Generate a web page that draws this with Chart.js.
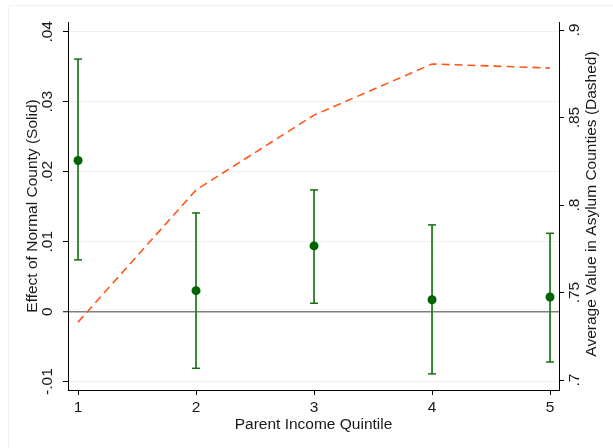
<!DOCTYPE html>
<html>
<head>
<meta charset="utf-8">
<script src="https://cdn.jsdelivr.net/npm/chart.js@4/dist/chart.umd.min.js"></script>
<style>
  html, body { margin: 0; padding: 0; background: #ffffff; }
  #c { display: block; }
</style>
</head>
<body>
<canvas id="c" width="613" height="448"></canvas>
<script>
// ---- data ----
const quintiles = [1, 2, 3, 4, 5];
const effect = [0.0216, 0.0030, 0.0094, 0.0017, 0.0021];
const ciLower = [0.0074, -0.0081, 0.0012, -0.0089, -0.0072];
const ciUpper = [0.0361, 0.0141, 0.0174, 0.0124, 0.0112];
const asylumAvg = [0.7331, 0.8086, 0.8514, 0.8806, 0.8783];

const xTickValues = [1, 2, 3, 4, 5];
const leftTickValues = [-0.01, 0, 0.01, 0.02, 0.03, 0.04];
const leftTickLabels = ['-.01', '0', '.01', '.02', '.03', '.04'];
const rightTickValues = [0.7, 0.75, 0.8, 0.85, 0.9];
const rightTickLabels = ['.7', '.75', '.8', '.85', '.9'];

const xTitle = 'Parent Income Quintile';
const leftTitle = 'Effect of Normal County (Solid)';
const rightTitle = 'Average Value in Asylum Counties (Dashed)';

// ---- derived tables ----
const pointData = quintiles.map((q, i) => ({ x: q, y: effect[i] }));
const ciData = [];
quintiles.forEach((q, i) => {
  ciData.push({ x: q, y: ciLower[i] });
  ciData.push({ x: q, y: ciUpper[i] });
  ciData.push({ x: q, y: null });
});
const lineData = quintiles.map((q, i) => ({ x: q, y: asylumAvg[i] }));

const FONT = 'Liberation Sans, Arial, Helvetica, sans-serif';
const FS = 15.5;
const TEXT = '#1a1a1a';
const GRID = '#eaf2f3';

const framePlugin = {
  id: 'frame',
  beforeDraw(chart) {
    const ctx = chart.ctx;
    ctx.save();
    ctx.strokeStyle = GRID;
    ctx.lineWidth = 1;
    ctx.beginPath();
    ctx.moveTo(8.5, 448);
    ctx.lineTo(8.5, 5.5);
    ctx.lineTo(613, 5.5);
    ctx.stroke();
    ctx.restore();
  }
};

const yTextPlugin = {
  id: 'yText',
  afterDraw(chart) {
    const ctx = chart.ctx;
    const ys = chart.scales.y, y2 = chart.scales.y2;
    const area = chart.chartArea;
    ctx.save();
    ctx.fillStyle = TEXT;
    ctx.textAlign = 'center';
    ctx.textBaseline = 'middle';
    ctx.font = FS + 'px ' + FONT;
    leftTickValues.forEach((v, i) => {
      const py = ys.getPixelForValue(v);
      ctx.save();
      ctx.translate(ys.right - 20, py);
      ctx.rotate(-Math.PI / 2);
      ctx.fillText(leftTickLabels[i], 0, 0);
      ctx.restore();
    });
    rightTickValues.forEach((v, i) => {
      const py = y2.getPixelForValue(v);
      ctx.save();
      ctx.translate(y2.left + 16, py);
      ctx.rotate(-Math.PI / 2);
      ctx.fillText(rightTickLabels[i], 0, 0);
      ctx.restore();
    });
    const cy = (area.top + area.bottom) / 2;
    ctx.save();
    ctx.translate(33, cy);
    ctx.rotate(-Math.PI / 2);
    ctx.fillText(leftTitle, 0, 0);
    ctx.restore();
    ctx.save();
    ctx.translate(y2.left + 33, cy - 2);
    ctx.rotate(-Math.PI / 2);
    ctx.fillText(rightTitle, 0, 0);
    ctx.restore();
    ctx.restore();
  }
};

new Chart(document.getElementById('c'), {
  type: 'scatter',
  data: {
    datasets: [
      {
        type: 'line',
        label: 'Asylum',
        data: lineData,
        yAxisID: 'y2',
        borderColor: 'rgb(255,85,25)',
        borderWidth: 1.6,
        borderDash: [8, 5],
        pointRadius: 0,
        fill: false,
        tension: 0,
        order: 3
      },
      {
        type: 'line',
        label: 'CI',
        data: ciData,
        yAxisID: 'y',
        borderColor: 'rgb(40,125,40)',
        borderWidth: 1.8,
        pointStyle: 'line',
        pointRadius: 4,
        pointBorderWidth: 1.5,
        pointBorderColor: 'rgb(20,110,20)',
        spanGaps: false,
        fill: false,
        order: 2
      },
      {
        label: 'Effect',
        data: pointData,
        yAxisID: 'y',
        backgroundColor: 'rgb(0,100,0)',
        borderColor: 'rgb(0,100,0)',
        pointRadius: 4.5,
        pointBorderWidth: 0,
        order: 1
      }
    ]
  },
  options: {
    responsive: false,
    devicePixelRatio: 1,
    animation: false,
    events: [],
    layout: { padding: { top: 22, left: 0, right: 0, bottom: 0 } },
    plugins: { legend: { display: false }, tooltip: { enabled: false } },
    scales: {
      x: {
        type: 'linear',
        position: 'bottom',
        min: 0.915,
        max: 5.076,
        afterBuildTicks: s => { s.ticks = xTickValues.map(v => ({ value: v })); },
        afterFit: s => { s.height = 58; },
        grid: { drawOnChartArea: false, drawTicks: true, tickLength: 5, tickColor: '#000', tickWidth: 1 },
        border: { display: true, color: '#000', width: 1 },
        ticks: {
          color: TEXT,
          font: { family: FONT, size: FS },
          padding: 3,
          maxRotation: 0,
          callback: v => String(v)
        },
        title: {
          display: true,
          text: xTitle,
          color: TEXT,
          font: { family: FONT, size: FS },
          padding: { top: 0, bottom: 14 }
        }
      },
      y: {
        type: 'linear',
        position: 'left',
        min: -0.0112,
        max: 0.0414,
        afterBuildTicks: s => { s.ticks = leftTickValues.map(v => ({ value: v })); },
        afterFit: s => { s.width = 68; },
        grid: {
          drawOnChartArea: true,
          drawTicks: true,
          tickLength: 5,
          tickColor: '#000',
          tickWidth: 1,
          color: c => (c.tick && c.tick.value === 0) ? 'rgb(128,128,128)' : GRID,
          lineWidth: c => (c.tick && c.tick.value === 0) ? 1.5 : 1
        },
        border: { display: true, color: '#000', width: 1 },
        ticks: { display: false }
      },
      y2: {
        type: 'linear',
        position: 'right',
        min: 0.6943,
        max: 0.9046,
        afterBuildTicks: s => { s.ticks = rightTickValues.map(v => ({ value: v })); },
        afterFit: s => { s.width = 54; },
        grid: { drawOnChartArea: false, drawTicks: true, tickLength: 5, tickColor: '#000', tickWidth: 1 },
        border: { display: true, color: '#000', width: 1 },
        ticks: { display: false }
      }
    }
  },
  plugins: [framePlugin, yTextPlugin]
});
</script>
</body>
</html>
